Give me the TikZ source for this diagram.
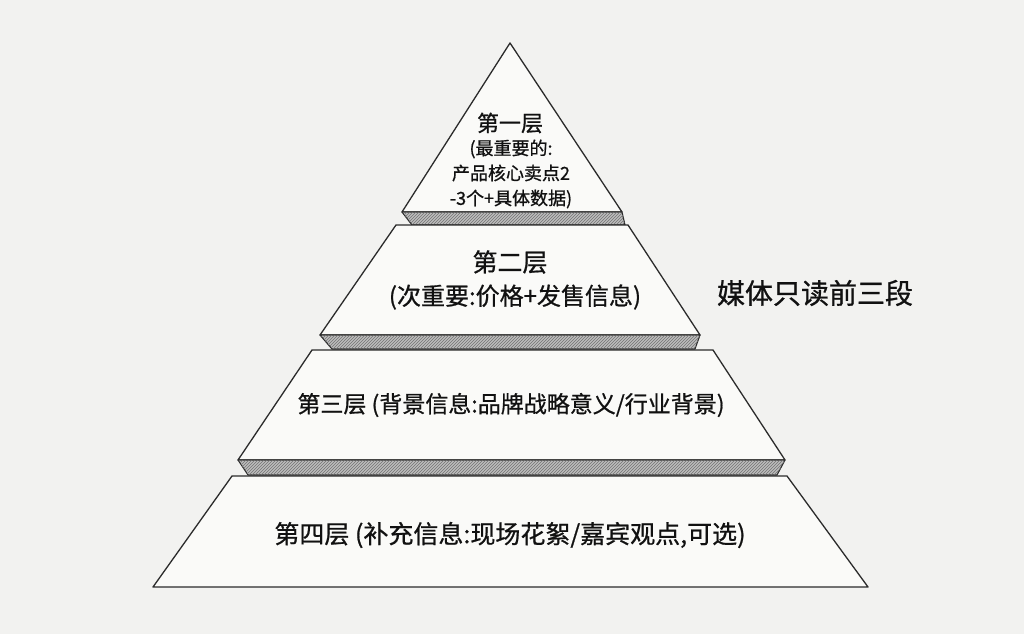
\documentclass[tikz,border=0pt]{standalone}
\usepackage{fontspec}
\setmainfont{Noto Sans CJK SC}[AutoFakeBold=0.8]
\usetikzlibrary{patterns}

\definecolor{paper}{HTML}{F2F2F0}
\definecolor{face}{HTML}{FAFAF8}
\definecolor{pencil}{HTML}{2B2B2B}
\definecolor{ink}{HTML}{111111}

\tikzset{
  tier/.style={draw=pencil, line width=1.3pt, fill=face, line join=round},
  band/.style={draw=pencil, line width=1.1pt, fill=black!26, line join=round},
  hatch/.style={pattern=north east lines, pattern color=black!55},
  label/.style={text=ink, inner sep=0pt, align=center},
}

\begin{document}
\begin{tikzpicture}[x=1pt, y=-1pt]
    \useasboundingbox[fill=paper] (0,0) rectangle (1024,634);

    % tiers, top to bottom
    \draw[tier] (510,43) -- (622,212) -- (402,212) -- cycle;
    \draw[band] (402,212) -- (622,212) -- (625,225) -- (412,225) -- cycle;
    \path[hatch] (402,212) -- (622,212) -- (625,225) -- (412,225) -- cycle;

    \draw[tier] (396,225) -- (628,225) -- (700,335) -- (320,335) -- cycle;
    \draw[band] (320,335) -- (700,335) -- (695,349) -- (332,349) -- cycle;
    \path[hatch] (320,335) -- (700,335) -- (695,349) -- (332,349) -- cycle;

    \draw[tier] (312,350) -- (713,350) -- (785,460) -- (238,460) -- cycle;
    \draw[band] (238,460) -- (785,460) -- (777,475) -- (248,475) -- cycle;
    \path[hatch] (238,460) -- (785,460) -- (777,475) -- (248,475) -- cycle;

    \draw[tier] (232,476) -- (787,476) -- (868,587) -- (153,587) -- cycle;

    % labels
    \node[label, font=\bfseries\fontsize{22}{26}\selectfont] (top) at (510,123) {第一层};
    \node[label, font=\bfseries\fontsize{18}{25}\selectfont] (topnote) at (511,174)
	{(最重要的:\\产品核心卖点2\\-3个+具体数据)};

    \node[label, font=\bfseries\fontsize{25}{28}\selectfont] (second) at (510,262) {第二层};
    \node[label, font=\bfseries\fontsize{24}{28}\selectfont] (secondnote) at (515,297)
	{(次重要:价格+发售信息)};

    \node[label, font=\bfseries\fontsize{23}{28}\selectfont] (third) at (511,405)
	{第三层 (背景信息:品牌战略意义/行业背景)};
    \node[label, font=\bfseries\fontsize{25}{28}\selectfont] (fourth) at (510,535)
	{第四层 (补充信息:现场花絮/嘉宾观点,可选)};

    \node[label, font=\bfseries\fontsize{28}{32}\selectfont] (media) at (815,293) {媒体只读前三段};
\end{tikzpicture}
\end{document}
